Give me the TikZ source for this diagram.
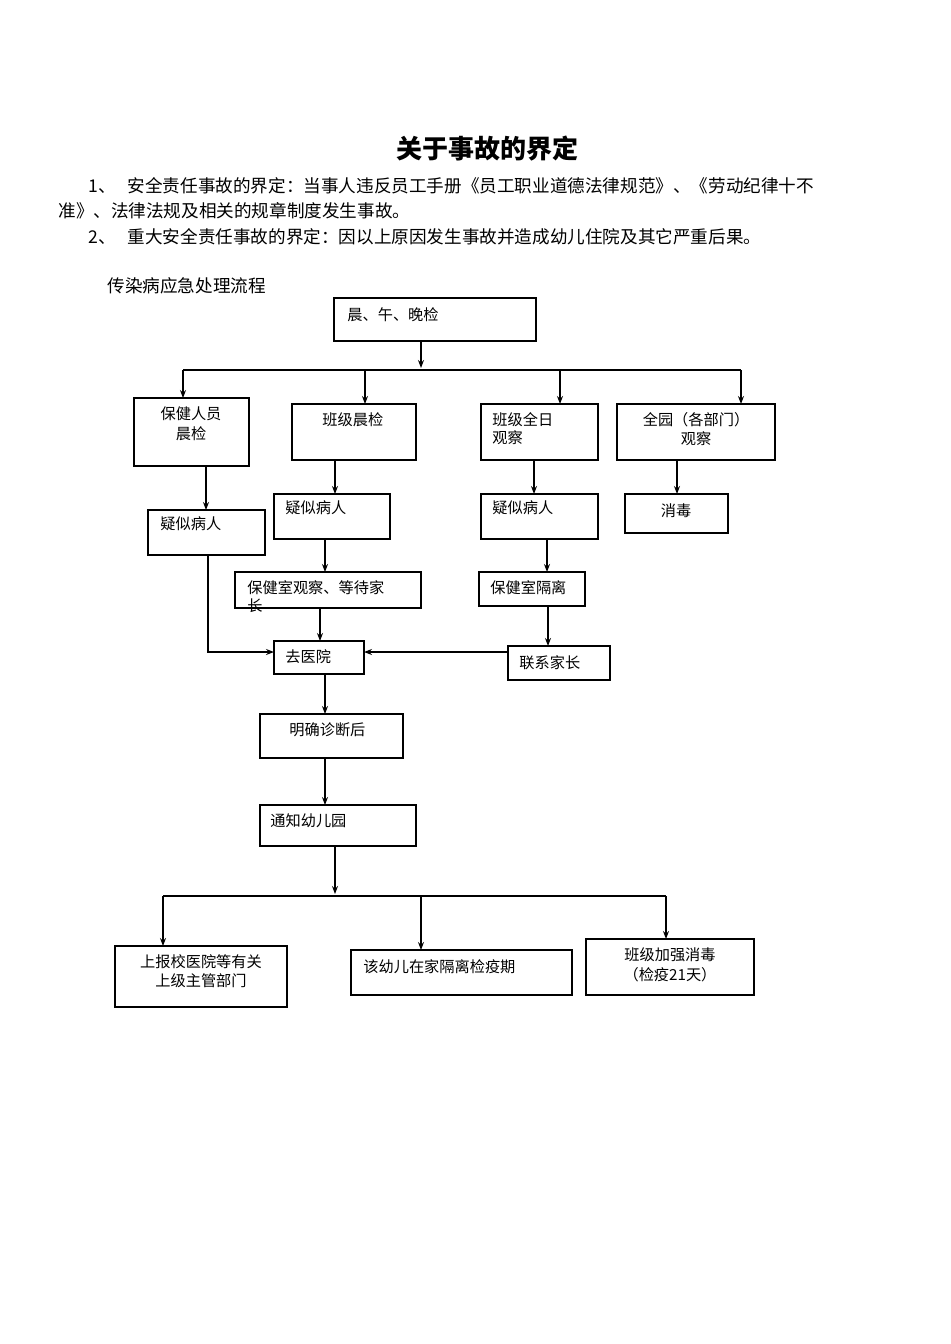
\documentclass[tikz,border=0pt]{standalone}
\usepackage{fontspec}
\usetikzlibrary{arrows.meta}
\setmainfont{Liberation Serif}
\newfontfamily\cjk{Noto Sans CJK SC}
\begin{document}
\begin{tikzpicture}[x=0.5pt,y=-0.5pt,
 bx/.style={draw,line width=0.6pt},
 ar/.style={draw,line width=0.6pt,-{Stealth[length=4pt,width=3pt]}},
 ln/.style={draw,line width=0.6pt},
 t/.style={anchor=west,inner sep=0pt,font=\cjk\fontsize{7.6pt}{9pt}\selectfont},
 tc/.style={anchor=center,inner sep=0pt,align=center,font=\cjk\fontsize{7.6pt}{9.8pt}\selectfont},
 p/.style={anchor=west,inner sep=0pt,font=\cjk\fontsize{8.8pt}{10pt}\selectfont}]
\useasboundingbox (0,0) rectangle (950,1344);
\node[inner sep=0pt,font=\cjk\bfseries\fontsize{13pt}{15pt}\selectfont] (title) at (487,149) {关于事故的界定};
\node[p] (p1) at (88,186) {1、\hspace{6pt}\makebox[388pt][s]{安全责任事故的界定：当事人违反员工手册《员工职业道德法律规范》、《劳动纪律十不}};
\node[p] (p2) at (58,211) {准》、法律法规及相关的规章制度发生事故。};
\node[p] (p3) at (88,237) {2、\hspace{6pt}重大安全责任事故的界定：因以上原因发生事故并造成幼儿住院及其它严重后果。};
\node[p] (fl) at (107,286) {传染病应急处理流程};
% boxes
\draw[bx] (334,298) rectangle (536,341); \node[t] (a) at (347,315) {晨、午、晚检};
\draw[bx] (134,398) rectangle (249,466); \node[tc] (b1) at (191,424) {保健人员\\晨检};
\draw[bx] (292,404) rectangle (416,460); \node[t] (b2) at (322,420) {班级晨检};
\draw[bx] (481,404) rectangle (598,460); \node[t,align=left] (b3) at (492,429) {班级全日\\观察};
\draw[bx] (617,404) rectangle (775,460); \node[tc] (b4) at (696,429) {全园（各部门）\\观察};
\draw[bx] (148,510) rectangle (265,555); \node[t] (c1) at (160,524) {疑似病人};
\draw[bx] (274,494) rectangle (390,539); \node[t] (c2) at (285,508) {疑似病人};
\draw[bx] (481,494) rectangle (598,539); \node[t] (c3) at (492,508) {疑似病人};
\draw[bx] (625,494) rectangle (728,533); \node[tc] (c4) at (676,511) {消毒};
\draw[bx] (235,572) rectangle (421,608); \node[t] (d1) at (247,588) {保健室观察、等待家}; \node[t] (d1b) at (247,606) {长};
\draw[bx] (479,572) rectangle (585,606); \node[t] (d2) at (490,588) {保健室隔离};
\draw[bx] (274,641) rectangle (364,674); \node[t] (e1) at (285,657) {去医院};
\draw[bx] (508,646) rectangle (610,680); \node[t] (e2) at (519,663) {联系家长};
\draw[bx] (260,714) rectangle (403,758); \node[t] (f) at (289,730) {明确诊断后};
\draw[bx] (260,805) rectangle (416,846); \node[t] (g) at (270,821) {通知幼儿园};
\draw[bx] (115,946) rectangle (287,1007); \node[tc] (h1) at (201,971) {上报校医院等有关\\上级主管部门};
\draw[bx] (351,950) rectangle (572,995); \node[t] (h2) at (363,967) {该幼儿在家隔离检疫期};
\draw[bx] (586,939) rectangle (754,995); \node[tc] (h3) at (670,965) {班级加强消毒\\（检疫21天）};
% connectors
\draw[ar] (421,341) -- (421,368);
\draw[ln] (183,370) -- (741,370);
\draw[ar] (183,370) -- (183,398);
\draw[ar] (365,370) -- (365,404);
\draw[ar] (560,370) -- (560,404);
\draw[ar] (741,370) -- (741,404);
\draw[ar] (206,466) -- (206,510);
\draw[ar] (335,460) -- (335,494);
\draw[ar] (534,460) -- (534,494);
\draw[ar] (677,460) -- (677,494);
\draw[ar] (325,539) -- (325,572);
\draw[ar] (547,539) -- (547,572);
\draw[ar] (320,608) -- (320,641);
\draw[ar] (208,555) -- (208,652) -- (274,652);
\draw[ar] (508,652) -- (364,652);
\draw[ar] (548,606) -- (548,646);
\draw[ar] (325,674) -- (325,714);
\draw[ar] (325,758) -- (325,805);
\draw[ar] (335,846) -- (335,894);
\draw[ln] (163,896) -- (666,896);
\draw[ar] (163,896) -- (163,946);
\draw[ar] (421,896) -- (421,950);
\draw[ar] (666,896) -- (666,939);
\end{tikzpicture}
\end{document}
